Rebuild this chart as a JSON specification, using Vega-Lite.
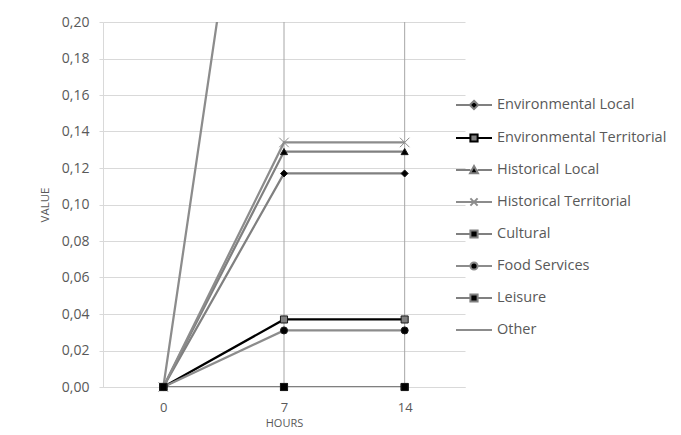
{
  "$schema": "https://vega.github.io/schema/vega-lite/v6.json",
  "width": 362,
  "height": 365,
  "autosize": {"type": "none"},
  "padding": {"left": 103, "top": 22, "right": 216, "bottom": 48},
  "background": "white",
  "config": {
    "locale": {"number": {"decimal": ",", "thousands": ".", "grouping": [3], "currency": ["", " €"]}},
    "view": {"stroke": null},
    "font": "Open Sans",
    "axisY": {
      "labelOverlap": false, "domain": true, "domainColor": "#d9d9d9", "tickColor": "#d9d9d9", "tickSize": 4,
      "gridColor": "#d9d9d9", "labelFont": "Open Sans", "labelFontSize": 14, "labelColor": "#595959",
      "labelPadding": 10, "titleFont": "Open Sans", "titleFontSize": 11.5,
      "titleFontWeight": "normal", "titleColor": "#595959", "titlePadding": 11
    },
    "axisX": {
      "labelAngle": 0, "domain": true, "domainColor": "#d9d9d9", "ticks": false, "grid": false,
      "labelFont": "Open Sans", "labelFontSize": 13, "labelColor": "#595959", "labelPadding": 14,
      "titleFont": "Open Sans", "titleFontSize": 11, "titleFontWeight": "normal",
      "titleColor": "#595959", "titlePadding": 3
    }
  },
  "datasets": {
    "series": [
      {"series": "Environmental Local", "hours": 0, "value": 0},
      {"series": "Environmental Local", "hours": 7, "value": 0.117},
      {"series": "Environmental Local", "hours": 14, "value": 0.117},
      {"series": "Environmental Territorial", "hours": 0, "value": 0},
      {"series": "Environmental Territorial", "hours": 7, "value": 0.037},
      {"series": "Environmental Territorial", "hours": 14, "value": 0.037},
      {"series": "Historical Local", "hours": 0, "value": 0},
      {"series": "Historical Local", "hours": 7, "value": 0.129},
      {"series": "Historical Local", "hours": 14, "value": 0.129},
      {"series": "Historical Territorial", "hours": 0, "value": 0},
      {"series": "Historical Territorial", "hours": 7, "value": 0.134},
      {"series": "Historical Territorial", "hours": 14, "value": 0.134},
      {"series": "Cultural", "hours": 0, "value": 0},
      {"series": "Cultural", "hours": 7, "value": 0},
      {"series": "Cultural", "hours": 14, "value": 0},
      {"series": "Food Services", "hours": 0, "value": 0},
      {"series": "Food Services", "hours": 7, "value": 0.031},
      {"series": "Food Services", "hours": 14, "value": 0.031},
      {"series": "Leisure", "hours": 0, "value": 0},
      {"series": "Leisure", "hours": 7, "value": 0},
      {"series": "Leisure", "hours": 14, "value": 0},
      {"series": "Other", "hours": 0, "value": 0},
      {"series": "Other", "hours": 7, "value": 0.45},
      {"series": "Other", "hours": 14, "value": 0.45}
    ],
    "rules": [{"hours": 7}, {"hours": 14}]
  },
  "layer": [
    {
      "data": {"name": "rules"},
      "mark": {"type": "rule", "color": "#a6a6a6", "strokeWidth": 1},
      "encoding": {
        "x": {"field": "hours", "type": "ordinal", "title": "HOURS"}
      }
    },
    {
      "data": {"name": "series"},
      "mark": {"type": "line", "strokeWidth": 2.25, "clip": true},
      "encoding": {
        "x": {
          "field": "hours", "type": "ordinal", "title": "HOURS",
          "scale": {"type": "point", "padding": 0.5, "domain": [0, 7, 14]}
        },
        "y": {
          "field": "value", "type": "quantitative", "title": "VALUE",
          "scale": {"domain": [0, 0.2]},
          "axis": {"values": [0, 0.02, 0.04, 0.06, 0.08, 0.1, 0.12, 0.14, 0.16, 0.18, 0.2], "format": ".2f"}
        },
        "stroke": {
          "field": "series", "type": "nominal",
          "scale": {
            "domain": ["Environmental Local", "Environmental Territorial", "Historical Local", "Historical Territorial", "Cultural", "Food Services", "Leisure", "Other"],
            "range": ["#808080", "#000000", "#808080", "#8c8c8c", "#808080", "#8c8c8c", "#808080", "#8c8c8c"]
          },
          "legend": {
            "orient": "none", "legendX": 358, "legendY": 70, "title": null,
            "symbolSize": 576, "symbolStrokeWidth": 2, "rowPadding": 11,
            "labelFont": "Open Sans", "labelFontSize": 14.5, "labelColor": "#595959", "labelOffset": 10, "labelLimit": 300,
            "encode": {
              "symbols": {
                "update": {
                  "shape": {"signal": "datum.value==='Environmental Local'?'M-1.5,0H-0.35M0.35,0H1.5M0,-0.35L0.35,0L0,0.35L-0.35,0Z':datum.value==='Environmental Territorial'?'M-1.5,0H-0.3M0.3,0H1.5M-0.3,-0.3H0.3V0.3H-0.3Z':datum.value==='Historical Local'?'M-1.5,0H-0.3M0.3,0H1.5M0,-0.33L0.33,0.27H-0.33Z':datum.value==='Historical Territorial'?'M-1.5,0H1.5M-0.3,-0.3L0.3,0.3M-0.3,0.3L0.3,-0.3':datum.value==='Food Services'?'M-1.5,0H-0.3M0.3,0H1.5M-0.3,0A0.3,0.3 0 1,0 0.3,0A0.3,0.3 0 1,0 -0.3,0Z':datum.value==='Other'?'M-1.5,0H1.5':'M-1.5,0H-0.3M0.3,0H1.5M-0.3,-0.3H0.3V0.3H-0.3Z'"},
                  "fill": {"signal": "datum.value==='Environmental Territorial'?'#808080':datum.value==='Historical Territorial'||datum.value==='Other'?'transparent':'#000000'"}
                }
              }
            }
          }
        }
      }
    },
    {
      "data": {"name": "series"},
      "transform": [
        {"filter": "datum.series !== 'Other'"},
        {"calculate": "datum.series", "as": "marker"}
      ],
      "mark": {"type": "point", "filled": false, "opacity": 1, "strokeWidth": 1},
      "encoding": {
        "x": {"field": "hours", "type": "ordinal", "title": "HOURS"},
        "y": {
          "field": "value", "type": "quantitative", "title": "VALUE",
          "axis": {"values": [0, 0.02, 0.04, 0.06, 0.08, 0.1, 0.12, 0.14, 0.16, 0.18, 0.2], "format": ".2f"}
        },
        "shape": {
          "field": "marker", "type": "nominal", "legend": null,
          "scale": {
            "domain": ["Environmental Local", "Environmental Territorial", "Historical Local", "Historical Territorial", "Cultural", "Food Services", "Leisure"],
            "range": ["diamond", "square", "triangle-up", "M-1,-1L1,1M-1,1L1,-1", "square", "circle", "square"]
          }
        },
        "fill": {
          "field": "marker", "type": "nominal", "legend": null,
          "scale": {
            "domain": ["Environmental Local", "Environmental Territorial", "Historical Local", "Historical Territorial", "Cultural", "Food Services", "Leisure"],
            "range": ["#000000", "#808080", "#000000", "transparent", "#000000", "#000000", "#000000"]
          }
        },
        "stroke": {
          "condition": {"test": "datum.marker === 'Historical Territorial'", "value": "#8c8c8c"},
          "value": "#1a1a1a"
        },
        "size": {
          "condition": {"test": "datum.marker === 'Historical Territorial'", "value": 90},
          "value": 50
        }
      }
    }
  ]
}
